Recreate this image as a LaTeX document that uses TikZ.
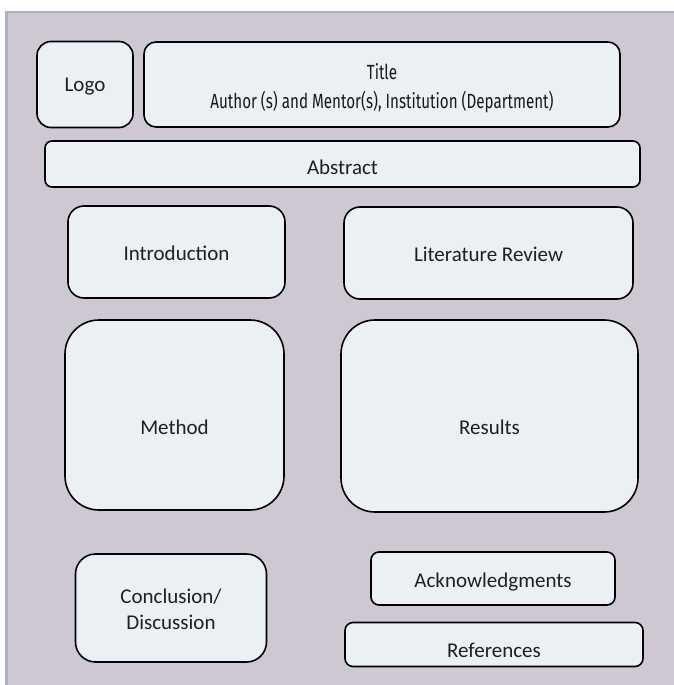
\documentclass[tikz,border=0pt]{standalone}
\usepackage{fontspec}
\setmainfont{Carlito}
\newfontfamily\titlefont[FakeStretch=0.74]{Fira Sans}
\definecolor{panelbg}{HTML}{CEC8D3}
\definecolor{paneledge}{HTML}{A8B1C9}
\definecolor{boxfill}{HTML}{EBF0F4}
\tikzset{
  sect/.style={draw=black, line width=1.6pt, fill=boxfill, inner sep=0pt},
  lbl/.style={anchor=base, inner sep=0pt, align=center, text=black!88,
    font=\fontsize{21}{26}\selectfont},
  ttl/.style={anchor=base, inner sep=0pt, text=black!90,
    font=\titlefont\fontsize{20.5}{28}\selectfont},
}
\begin{document}
\begin{tikzpicture}[x=1pt, y=-1pt]
\useasboundingbox (0,0) rectangle (674,685);
\fill[white] (0,0) rectangle (674,685);
\fill[panelbg] (5,11) rectangle (674,685);
\fill[paneledge] (5,11) rectangle (674,13.5);
\fill[paneledge] (5,11) rectangle (7.5,685);
% boxes
\node[sect, rounded corners=14pt, minimum width=96pt, minimum height=86pt] (logo) at (85,84.5) {};
\node[sect, rounded corners=12pt, minimum width=476pt, minimum height=85pt] (title) at (382,84.5) {};
\node[sect, rounded corners=7pt, minimum width=595pt, minimum height=46pt] (abstract) at (342.5,164) {};
\node[sect, rounded corners=16pt, minimum width=217pt, minimum height=92pt] (intro) at (176.5,252) {};
\node[sect, rounded corners=16pt, minimum width=289pt, minimum height=92pt] (litrev) at (488.5,253) {};
\node[sect, rounded corners=34pt, minimum width=219pt, minimum height=190pt] (method) at (174.5,415) {};
\node[sect, rounded corners=34pt, minimum width=297pt, minimum height=192pt] (results) at (489.5,416) {};
\node[sect, rounded corners=20pt, minimum width=191pt, minimum height=108pt] (concl) at (171,608) {};
\node[sect, rounded corners=8pt, minimum width=244pt, minimum height=53pt] (ack) at (493,578.5) {};
\node[sect, rounded corners=8pt, minimum width=298pt, minimum height=44pt] (refs) at (494,644.5) {};
% labels
\node[lbl] (logoT) at (85,92) {Logo};
\node[ttl] (titleT1) at (382,80) {Title};
\node[ttl] (titleT2) at (382,108) {Author (s) and Mentor(s), Institution (Department)};
\node[lbl] (abstractT) at (342.5,174) {Abstract};
\node[lbl] (introT) at (176.5,260) {Introduction};
\node[lbl] (litrevT) at (488.5,261) {Literature Review};
\node[lbl] (methodT) at (174.5,434) {Method};
\node[lbl] (resultsT) at (489.5,434) {Results};
\node[lbl] (conclT1) at (171,603) {Conclusion/};
\node[lbl] (conclT2) at (171,629) {Discussion};
\node[lbl] (ackT) at (493,587) {Acknowledgments};
\node[lbl] (refsT) at (494,657) {References};
\end{tikzpicture}
\end{document}
